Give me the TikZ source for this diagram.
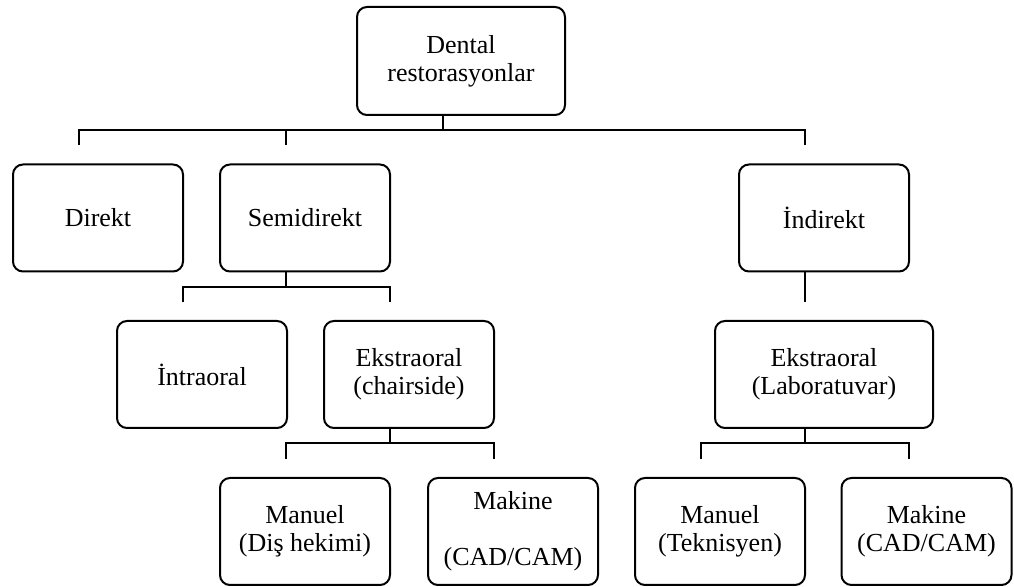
\documentclass[tikz,border=0pt]{standalone}
\usepackage{fontspec}
\setmainfont{Liberation Serif}
\begin{document}
\begin{tikzpicture}[x=0.5pt,y=-0.5pt,
  kutu/.style={draw,line width=1pt,rounded corners=5pt,align=center,
    minimum width=85pt,minimum height=53.5pt,inner sep=0pt,
    font=\fontsize{13}{14}\selectfont},
  baglanti/.style={line width=0.75pt}]
  \useasboundingbox (0,0) rectangle (1014,587);
  % Draw boxes
  \node[kutu,minimum width=104pt,minimum height=54pt] (dental) at (461,61)
        {Dental\\restorasyonlar};
  \node[kutu] (direkt) at (98,218) {Direkt};
  \node[kutu] (semi)   at (305,218) {Semidirekt};
  \node[kutu] (indir)  at (824,218) {İndirekt};
  \node[kutu] (intra)  at (202,374.5) {İntraoral};
  \node[kutu] (chair)  at (409,374.5) {Ekstraoral\\(chairside)};
  \node[kutu,minimum width=109pt] (lab) at (824,374.5)
        {Ekstraoral\\(Laboratuvar)};
  \node[kutu] (manD) at (305,531.5) {Manuel\\(Diş hekimi)};
  \node[kutu] (makD) at (513,531.5) {Makine\\~\\(CAD/CAM)};
  \node[kutu] (manT) at (720,531.5) {Manuel\\(Teknisyen)};
  \node[kutu] (makT) at (926.5,531.5) {Makine\\(CAD/CAM)};
  % Draw connectors under root
  \coordinate (k1) at (443,130);
  \coordinate (u1) at (79,145);
  \coordinate (u2) at (286,145);
  \coordinate (u3) at (805,145);
  \draw[baglanti] (k1 |- dental.south) -- (k1);
  \draw[baglanti] (u1) |- (u3 |- k1) -- (u3);
  \draw[baglanti] (u2) -- (u2 |- k1);
  % Semidirekt
  \coordinate (k2) at (286,287);
  \coordinate (u4) at (183,302);
  \coordinate (u5) at (390,302);
  \draw[baglanti] (k2 |- semi.south) -- (k2);
  \draw[baglanti] (u4) |- (u5 |- k2) -- (u5);
  % Indirekt
  \coordinate (u6) at (805,302);
  \draw[baglanti] (u6 |- indir.south) -- (u6);
  % Ekstraoral (chairside)
  \coordinate (k3) at (390,443);
  \coordinate (u7) at (286,459);
  \coordinate (u8) at (494,459);
  \draw[baglanti] (k3 |- chair.south) -- (k3);
  \draw[baglanti] (u7) |- (u8 |- k3) -- (u8);
  % Ekstraoral (Laboratuvar)
  \coordinate (k4) at (805,443);
  \coordinate (u9) at (701,459);
  \coordinate (u10) at (909,459);
  \draw[baglanti] (k4 |- lab.south) -- (k4);
  \draw[baglanti] (u9) |- (u10 |- k4) -- (u10);
\end{tikzpicture}
\end{document}
